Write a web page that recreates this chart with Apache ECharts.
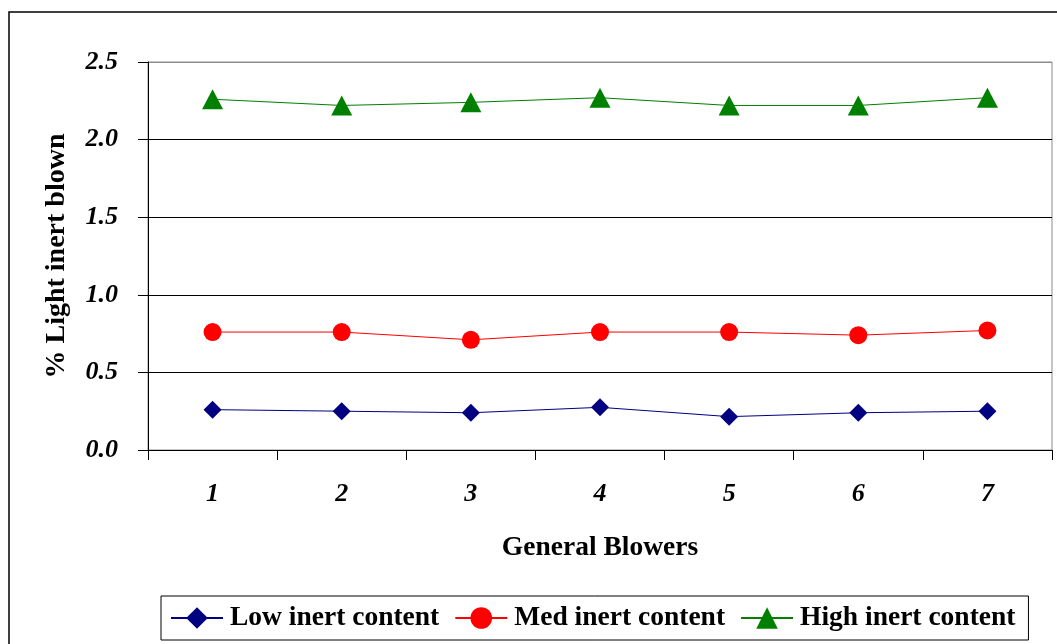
<!DOCTYPE html>
<html>
<head>
<meta charset="utf-8">
<script src="https://cdn.jsdelivr.net/npm/echarts@6/dist/echarts.min.js"></script>
<style>
  html, body { margin: 0; padding: 0; background: #fff; }
  #chart { width: 1057px; height: 644px; }
</style>
</head>
<body>
<div id="chart"></div>
<script>
// Blower numbers along the x axis
const categories = ['1', '2', '3', '4', '5', '6', '7'];

// Percentage of light inert material blown, per inert content level
const lowInert  = [0.26, 0.25, 0.24, 0.275, 0.215, 0.24, 0.25];
const medInert  = [0.76, 0.76, 0.71, 0.76, 0.76, 0.74, 0.77];
const highInert = [2.26, 2.22, 2.24, 2.27, 2.22, 2.22, 2.27];

const seriesNames = ['Low inert content', 'Med inert content', 'High inert content'];
const yTicks = { min: 0, max: 2.5, interval: 0.5 };

const serif = '"Liberation Serif", "Times New Roman", serif';

const chart = echarts.init(document.getElementById('chart'), null, { renderer: 'canvas' });

function lineSeries(name, data, color, symbol, size) {
  return {
    name: name,
    type: 'line',
    data: data,
    symbol: symbol,
    symbolSize: size,
    showSymbol: true,
    lineStyle: { color: color, width: 1 },
    itemStyle: { color: color },
    emphasis: { disabled: true },
    animation: false
  };
}

chart.setOption({
  backgroundColor: '#fff',
  animation: false,
  graphic: [
    {
      type: 'rect',
      shape: { x: 9, y: 12, width: 1070, height: 660 },
      style: { fill: 'none', stroke: '#000', lineWidth: 1.5 },
      silent: true,
      z: -10
    }
  ],
  grid: {
    left: 148, top: 62, right: 5, bottom: 194,
    show: true,
    backgroundColor: '#fff',
    borderColor: '#8c8c8c',
    borderWidth: 1
  },
  legend: {
    data: seriesNames,
    left: 161,
    top: 596,
    orient: 'horizontal',
    padding: [8, 13, 8, 9],
    itemGap: 15,
    itemWidth: 52,
    itemHeight: 27,
    borderColor: '#000',
    borderWidth: 1,
    backgroundColor: '#fff',
    selectedMode: false,
    textStyle: { fontFamily: serif, fontWeight: 'bold', fontSize: 27.5, color: '#000', padding: [0, 0, 0, 2] }
  },
  xAxis: {
    type: 'category',
    data: categories,
    boundaryGap: true,
    name: 'General Blowers',
    nameLocation: 'middle',
    nameGap: 84,
    nameTextStyle: { fontFamily: serif, fontWeight: 'bold', fontSize: 27.5, color: '#000' },
    axisLine: { show: true, lineStyle: { color: '#000', width: 1 } },
    axisTick: { show: true, alignWithLabel: false, length: 10, inside: false, lineStyle: { color: '#000' } },
    axisLabel: { fontFamily: serif, fontStyle: 'italic', fontWeight: 'bold', fontSize: 26, color: '#000', margin: 31 },
    splitLine: { show: false }
  },
  yAxis: {
    type: 'value',
    min: yTicks.min,
    max: yTicks.max,
    interval: yTicks.interval,
    name: '% Light inert blown',
    nameLocation: 'middle',
    nameGap: 77,
    nameTextStyle: { fontFamily: serif, fontWeight: 'bold', fontSize: 28, color: '#000' },
    axisLine: { show: true, lineStyle: { color: '#000', width: 1 } },
    axisTick: { show: true, length: 10, inside: false, lineStyle: { color: '#000' } },
    axisLabel: {
      fontFamily: serif, fontStyle: 'italic', fontWeight: 'bold', fontSize: 26, color: '#000', margin: 30,
      formatter: function (v) { return v.toFixed(1); }
    },
    splitLine: {
      show: true,
      lineStyle: { color: ['#000', '#000', '#000', '#000', '#000', '#8c8c8c'], width: 1 }
    }
  },
  series: [
    lineSeries(seriesNames[0], lowInert, '#000080', 'diamond', 18),
    lineSeries(seriesNames[1], medInert, '#ff0000', 'circle', 18),
    lineSeries(seriesNames[2], highInert, '#008000', 'triangle', [21, 20])
  ]
});
</script>
</body>
</html>
